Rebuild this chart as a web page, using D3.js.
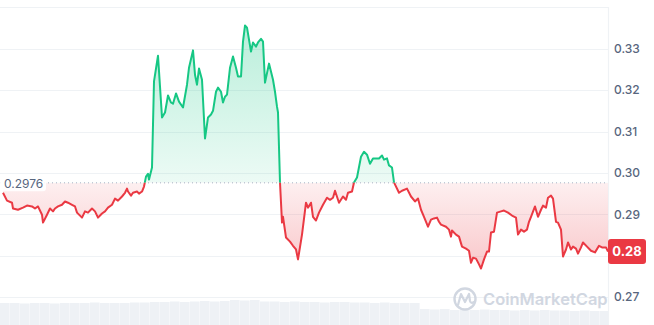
<!DOCTYPE html>
<html>
<head>
<meta charset="utf-8">
<script src="https://cdn.jsdelivr.net/npm/d3@7"></script>
<style>
  body { margin: 0; background: #fff; }
  svg { display: block; font-family: Inter, "Noto Sans", sans-serif; }
</style>
</head>
<body>
<div id="chart"></div>
<script>
// 24h price, time in steps (~2.4 min each)
var times = [0,4,9,10,15,20,24,29,32,35,39,40,44,47,50,52,55,59,62,65,69,72,74,79,82,85,89,92,95,99,102,105,109,112,115,119,122,124,125,128,130,134,136,139,141,143,145,146,149,151,155,159,162,165,168,170,173,176,180,184,186,190,192,194,196,199,202,205,208,210,213,215,218,220,222,224,227,230,233,235,238,240,242,244,248,250,253,255,258,260,262,266,270,272,274,275,277,279,280,283,287,290,293,295,299,303,305,308,310,313,316,320,324,327,330,332,336,340,343,345,349,351,354,358,361,364,367,370,376,379,381,384,386,389,391,396,399,404,408,412,415,418,421,425,428,431,434,436,438,443,446,448,449,453,456,459,463,466,468,470,473,476,478,481,484,486,488,491,494,498,501,505,509,513,515,518,521,524,526,528,532,535,538,540,543,545,548,550,553,555,558,560,563,565,568,570,573,575,578,580,584,588,592,596,599,603,605];

var prices = [0.2952,0.2933,0.2928,0.2914,0.2911,0.2916,0.2921,0.2919,0.2914,0.2919,0.2899,0.2880,0.2899,0.2914,0.2907,0.2914,0.2919,0.2923,0.2931,0.2928,0.2923,0.2919,0.2904,0.2892,0.2907,0.2904,0.2914,0.2907,0.2892,0.2902,0.2907,0.2916,0.2923,0.2938,0.2933,0.2943,0.2952,0.2962,0.2955,0.2945,0.2952,0.2955,0.2950,0.2955,0.2967,0.2991,0.2998,0.2984,0.3013,0.3221,0.3283,0.3134,0.3146,0.3187,0.3170,0.3167,0.3192,0.3172,0.3158,0.3213,0.3254,0.3296,0.3237,0.3213,0.3252,0.3225,0.3083,0.3134,0.3141,0.3150,0.3196,0.3206,0.3196,0.3170,0.3184,0.3189,0.3254,0.3281,0.3254,0.3233,0.3233,0.3317,0.3356,0.3351,0.3293,0.3315,0.3305,0.3315,0.3324,0.3317,0.3218,0.3264,0.3225,0.3196,0.3160,0.3146,0.2977,0.2880,0.2894,0.2844,0.2834,0.2824,0.2815,0.2791,0.2851,0.2928,0.2916,0.2928,0.2894,0.2885,0.2904,0.2923,0.2940,0.2935,0.2940,0.2957,0.2928,0.2943,0.2935,0.2952,0.2955,0.2977,0.2989,0.3039,0.3051,0.3044,0.3022,0.3035,0.3035,0.3042,0.3032,0.3035,0.3018,0.3013,0.2977,0.2952,0.2957,0.2962,0.2943,0.2931,0.2938,0.2911,0.2894,0.2870,0.2887,0.2890,0.2892,0.2882,0.2875,0.2870,0.2863,0.2846,0.2861,0.2851,0.2846,0.2822,0.2817,0.2812,0.2783,0.2795,0.2793,0.2779,0.2769,0.2791,0.2810,0.2810,0.2856,0.2858,0.2904,0.2907,0.2909,0.2904,0.2897,0.2892,0.2851,0.2863,0.2858,0.2863,0.2882,0.2894,0.2919,0.2894,0.2911,0.2921,0.2916,0.2940,0.2945,0.2938,0.2882,0.2880,0.2863,0.2798,0.2815,0.2832,0.2815,0.2822,0.2817,0.2805,0.2820,0.2832,0.2822,0.2812,0.2808,0.2824,0.2820,0.2820,0.2810];

var volumes = [22,22,21.5,22,22,21.5,22,22,22,22.5,22,22,22,22.5,22.5,23,23,23.5,23,23.5,24,23.5,24,25,24.5,25,23.5,23.5,23,23.5,23,23,22.5,23,23,22.5,22.5,22,22.5,22,22,22,16,15.5,16,15,15.5,15,15.5,15,15,14.5,15,14.5,15,14.5,14.5,14,14.5,14,14];

var yTicks = [0.27,0.28,0.29,0.30,0.31,0.32,0.33,0.34];
var openPrice = 0.2976;
var lastPrice = 0.28;

var width = 654, height = 325;
var plotRight = 608;

var svg = d3.select("#chart").append("svg")
    .attr("width", width)
    .attr("height", height);

var x = d3.scaleLinear().domain([0, 605]).range([3, plotRight]);
var y = d3.scaleLinear().domain([0.27, 0.34]).range([297.1, 7.3]);

var data = d3.zip(times, prices);
var yBase = y(openPrice);
var yl = y(prices[prices.length - 1]);

// volume bars
var xv = d3.scaleBand().domain(d3.range(volumes.length)).range([0, 610]).padding(0);
var hv = d3.scaleLinear().domain([0, 30]).range([0, 30]);
svg.append("clipPath").attr("id", "volClip")
  .append("rect").attr("x", 0).attr("y", 0).attr("width", plotRight).attr("height", height);
svg.append("g").attr("clip-path", "url(#volClip)")
  .selectAll("rect").data(volumes).enter().append("rect")
    .attr("x", function (d, i) { return xv(i); })
    .attr("width", xv.bandwidth() - 0.4)
    .attr("y", function (d) { return height - hv(d); })
    .attr("height", function (d) { return hv(d); })
    .attr("fill", "#eef1f5");

// grid
svg.append("g").selectAll("line").data(yTicks).enter().append("line")
    .attr("x1", 0).attr("x2", plotRight)
    .attr("y1", function (d) { return Math.round(y(d)) + 0.5; })
    .attr("y2", function (d) { return Math.round(y(d)) + 0.5; })
    .attr("stroke", "#eff2f5").attr("stroke-width", 1.2);

svg.append("line")
    .attr("x1", plotRight + 0.5).attr("x2", plotRight + 0.5)
    .attr("y1", Math.round(y(0.34))).attr("y2", height)
    .attr("stroke", "#eff2f5").attr("stroke-width", 1.2);

// gradients
var defs = svg.append("defs");
var gUp = defs.append("linearGradient").attr("id", "gUp")
    .attr("gradientUnits", "userSpaceOnUse")
    .attr("x1", 0).attr("x2", 0).attr("y1", y(0.336)).attr("y2", yBase);
gUp.append("stop").attr("offset", 0).attr("stop-color", "#16c784").attr("stop-opacity", 0.3);
gUp.append("stop").attr("offset", 1).attr("stop-color", "#16c784").attr("stop-opacity", 0.08);

var gDown = defs.append("linearGradient").attr("id", "gDown")
    .attr("gradientUnits", "userSpaceOnUse")
    .attr("x1", 0).attr("x2", 0).attr("y1", yBase).attr("y2", y(0.277));
gDown.append("stop").attr("offset", 0).attr("stop-color", "#ea3943").attr("stop-opacity", 0.08);
gDown.append("stop").attr("offset", 1).attr("stop-color", "#ea3943").attr("stop-opacity", 0.28);

defs.append("clipPath").attr("id", "above")
  .append("rect").attr("x", 0).attr("y", 0).attr("width", width).attr("height", yBase);
defs.append("clipPath").attr("id", "below")
  .append("rect").attr("x", 0).attr("y", yBase).attr("width", width).attr("height", height - yBase);

var area = d3.area()
    .x(function (d) { return x(d[0]); })
    .y0(yBase)
    .y1(function (d) { return y(d[1]); });

var line = d3.line()
    .x(function (d) { return x(d[0]); })
    .y(function (d) { return y(d[1]); });

svg.append("path").datum(data).attr("d", area)
    .attr("fill", "url(#gUp)").attr("clip-path", "url(#above)");
svg.append("path").datum(data).attr("d", area)
    .attr("fill", "url(#gDown)").attr("clip-path", "url(#below)");

// open price dotted line
svg.append("line")
    .attr("x1", 0).attr("x2", plotRight)
    .attr("y1", yBase).attr("y2", yBase)
    .attr("stroke", "#a6b0c3").attr("stroke-width", 1)
    .attr("stroke-dasharray", "1,3");

svg.append("path").datum(data).attr("d", line)
    .attr("fill", "none").attr("stroke", "#16c784").attr("stroke-width", 2)
    .attr("stroke-linejoin", "round").attr("clip-path", "url(#above)");
svg.append("path").datum(data).attr("d", line)
    .attr("fill", "none").attr("stroke", "#ea3943").attr("stroke-width", 2)
    .attr("stroke-linejoin", "round").attr("clip-path", "url(#below)");

// y axis labels (the one under the price badge is hidden, as in the app)
svg.append("g").selectAll("text")
    .data(yTicks.filter(function (d) { return d < 0.335 && Math.abs(y(d) - yl) > 14; }))
    .enter().append("text")
    .attr("x", 614)
    .attr("y", function (d) { return y(d); })
    .attr("dy", "0.35em")
    .attr("font-size", 12)
    .attr("font-weight", 500)
    .attr("fill", "#58667e")
    .text(function (d) { return d3.format(".2f")(d); });

// open price label
svg.append("rect")
    .attr("x", 0).attr("y", yBase - 8.5).attr("width", 46).attr("height", 17).attr("rx", 3)
    .attr("fill", "#fff").attr("fill-opacity", 0.9);
svg.append("text")
    .attr("x", 4).attr("y", yBase + 1)
    .attr("dy", "0.35em")
    .attr("font-size", 12).attr("fill", "#58667e")
    .text(d3.format(".4f")(openPrice));

// last price badge
svg.append("rect")
    .attr("x", plotRight).attr("y", yl - 12.5).attr("width", 38).attr("height", 25).attr("rx", 3)
    .attr("fill", "#ea3943");
svg.append("text")
    .attr("x", plotRight + 19).attr("y", yl)
    .attr("dy", "0.35em").attr("text-anchor", "middle")
    .attr("font-size", 13).attr("font-weight", 700).attr("fill", "#fff")
    .text(d3.format(".2f")(lastPrice));

// watermark
var wm = svg.append("g").attr("opacity", 0.9);
wm.append("circle").attr("cx", 465).attr("cy", 299).attr("r", 10.5)
    .attr("fill", "none").attr("stroke", "#cdd3de").attr("stroke-width", 2.4);
wm.append("path")
    .attr("d", "M458,305 L461,294 L465,302 L469,294 L470,301 Q471,304 474,302")
    .attr("fill", "none").attr("stroke", "#cdd3de").attr("stroke-width", 2.2)
    .attr("stroke-linejoin", "round").attr("stroke-linecap", "round");
wm.append("text").attr("x", 483).attr("y", 305)
    .attr("font-size", 16.5).attr("font-weight", 600).attr("fill", "#cdd3de")
    .text("CoinMarketCap");
</script>
</body>
</html>
